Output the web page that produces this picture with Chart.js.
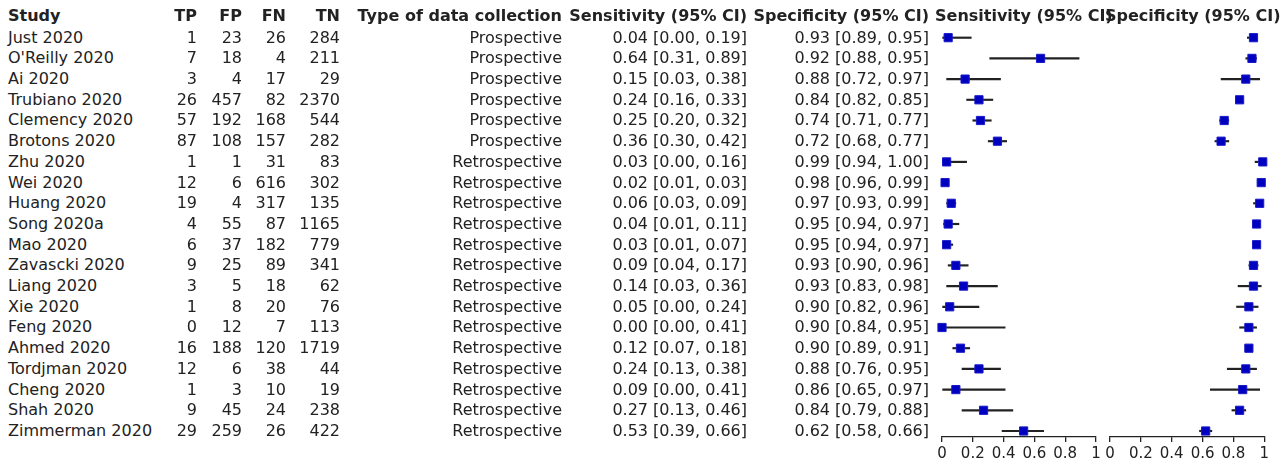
<!DOCTYPE html>
<html><head><meta charset="utf-8">
<script src="https://cdn.jsdelivr.net/npm/chart.js@4.4.1/dist/chart.umd.min.js"></script>
<style>
html,body{margin:0;padding:0;background:#fff;width:1283px;height:462px;overflow:hidden;}
#wrap{position:relative;width:1283px;height:462px;font-family:"DejaVu Sans",sans-serif;font-size:16px;color:#222;}
.t{position:absolute;white-space:nowrap;line-height:20px;height:20px;z-index:2;}
.b{font-weight:bold;}
canvas{position:absolute;top:0;z-index:1;}
</style></head>
<body><div id="wrap">
<canvas id="cSens" width="175" height="462" style="left:930px"></canvas>
<canvas id="cSpec" width="185" height="462" style="left:1098px"></canvas>
</div>
<script>
const studies = ["Just 2020","O'Reilly 2020","Ai 2020","Trubiano 2020","Clemency 2020","Brotons 2020","Zhu 2020","Wei 2020","Huang 2020","Song 2020a","Mao 2020","Zavascki 2020","Liang 2020","Xie 2020","Feng 2020","Ahmed 2020","Tordjman 2020","Cheng 2020","Shah 2020","Zimmerman 2020"];
const TP = [1,7,3,26,57,87,1,12,19,4,6,9,3,1,0,16,12,1,9,29];
const FP = [23,18,4,457,192,108,1,6,4,55,37,25,5,8,12,188,6,3,45,259];
const FN = [26,4,17,82,168,157,31,616,317,87,182,89,18,20,7,120,38,10,24,26];
const TN = [284,211,29,2370,544,282,83,302,135,1165,779,341,62,76,113,1719,44,19,238,422];
const collection = ["Prospective","Prospective","Prospective","Prospective","Prospective","Prospective","Retrospective","Retrospective","Retrospective","Retrospective","Retrospective","Retrospective","Retrospective","Retrospective","Retrospective","Retrospective","Retrospective","Retrospective","Retrospective","Retrospective"];
const sens   = [0.04,0.64,0.15,0.24,0.25,0.36,0.03,0.02,0.06,0.04,0.03,0.09,0.14,0.05,0.00,0.12,0.24,0.09,0.27,0.53];
const sensLo = [0.00,0.31,0.03,0.16,0.20,0.30,0.00,0.01,0.03,0.01,0.01,0.04,0.03,0.00,0.00,0.07,0.13,0.00,0.13,0.39];
const sensHi = [0.19,0.89,0.38,0.33,0.32,0.42,0.16,0.03,0.09,0.11,0.07,0.17,0.36,0.24,0.41,0.18,0.38,0.41,0.46,0.66];
const spec   = [0.93,0.92,0.88,0.84,0.74,0.72,0.99,0.98,0.97,0.95,0.95,0.93,0.93,0.90,0.90,0.90,0.88,0.86,0.84,0.62];
const specLo = [0.89,0.88,0.72,0.82,0.71,0.68,0.94,0.96,0.93,0.94,0.94,0.90,0.83,0.82,0.84,0.89,0.76,0.65,0.79,0.58];
const specHi = [0.95,0.95,0.97,0.85,0.77,0.77,1.00,0.99,0.99,0.97,0.97,0.96,0.98,0.96,0.95,0.91,0.95,0.97,0.88,0.66];
const tickValues = [0,0.2,0.4,0.6,0.8,1];
const tickLabels = ["0","0.2","0.4","0.6","0.8","1"];
const headers = ["Study","TP","FP","FN","TN","Type of data collection","Sensitivity (95% CI)","Specificity (95% CI)","Sensitivity (95% CI)","Specificity (95% CI)"];

const INK = '#222';
const BLUE = '#0000bf';

function makeChart(id, est, lo, hi, padL, padR) {
  const ctx = document.getElementById(id);
  return new Chart(ctx, {
    type: 'scatter',
    data: {
      datasets: [
        {
          type: 'bar',
          indexAxis: 'y',
          data: studies.map((s, i) => ({ y: i, x: [lo[i], hi[i]] })),
          backgroundColor: INK,
          borderWidth: 0,
          barThickness: 1.5,
          order: 2,
          clip: false
        },
        {
          type: 'scatter',
          data: studies.map((s, i) => ({ x: est[i], y: i })),
          pointStyle: 'rect',
          pointRadius: 5.8,
          backgroundColor: BLUE,
          borderColor: '#1a1acc',
          borderWidth: 1,
          order: 1,
          clip: false
        }
      ]
    },
    options: {
      responsive: false,
      animation: false,
      events: [],
      layout: { autoPadding: false, padding: { left: padL, right: padR, top: 0, bottom: 0 } },
      plugins: { legend: { display: false }, tooltip: { enabled: false } },
      scales: {
        y: {
          type: 'linear', display: false, reverse: true, offset: false,
          grid: { offset: false },
          min: -1.821, max: 19.29
        },
        x: {
          type: 'linear', min: 0, max: 1, offset: false,
          afterBuildTicks: (s) => { s.ticks = tickValues.map(v => ({ value: v })); },
          afterFit: (s) => { s.height = 25; },
          ticks: {
            autoSkip: false, maxRotation: 0,
            callback: (v, idx) => tickLabels[idx],
            font: { family: 'DejaVu Sans', size: 15 },
            color: INK, padding: 3
          },
          grid: { display: true, drawOnChartArea: false, drawTicks: true, tickLength: 5, color: INK, lineWidth: 1.3 },
          border: { display: true, color: INK, width: 1.3 }
        }
      }
    }
  });
}

const chSens = makeChart('cSens', sens, sensLo, sensHi, 12, 9);
const chSpec = makeChart('cSpec', spec, specLo, specHi, 12, 18.7);

const wrap = document.getElementById('wrap');
const W = 1283;
function addText(txt, y, opts) {
  const d = document.createElement('div');
  d.className = 't' + (opts.bold ? ' b' : '');
  d.textContent = txt;
  d.style.top = (y - 10) + 'px';
  if (opts.right !== undefined) { d.style.right = (W - opts.right) + 'px'; d.style.textAlign = 'right'; }
  else d.style.left = opts.left + 'px';
  wrap.appendChild(d);
}
const fmt = (e, l, h) => e.toFixed(2) + ' [' + l.toFixed(2) + ', ' + h.toFixed(2) + ']';
const colPos = [{left:8},{right:197},{right:242},{right:286},{right:340},{right:562},{right:747},{right:929},{left:935},{left:1105}];
const headerY = 16;
headers.forEach((h, k) => addText(h, headerY, Object.assign({ bold: true }, colPos[k])));
const ys = chSens.scales.y;
studies.forEach((s, i) => {
  const y = ys.getPixelForValue(i);
  const vals = [s, String(TP[i]), String(FP[i]), String(FN[i]), String(TN[i]), collection[i],
    fmt(sens[i], sensLo[i], sensHi[i]), fmt(spec[i], specLo[i], specHi[i])];
  vals.forEach((v, k) => addText(v, y, colPos[k]));
});
</script>
</body></html>
